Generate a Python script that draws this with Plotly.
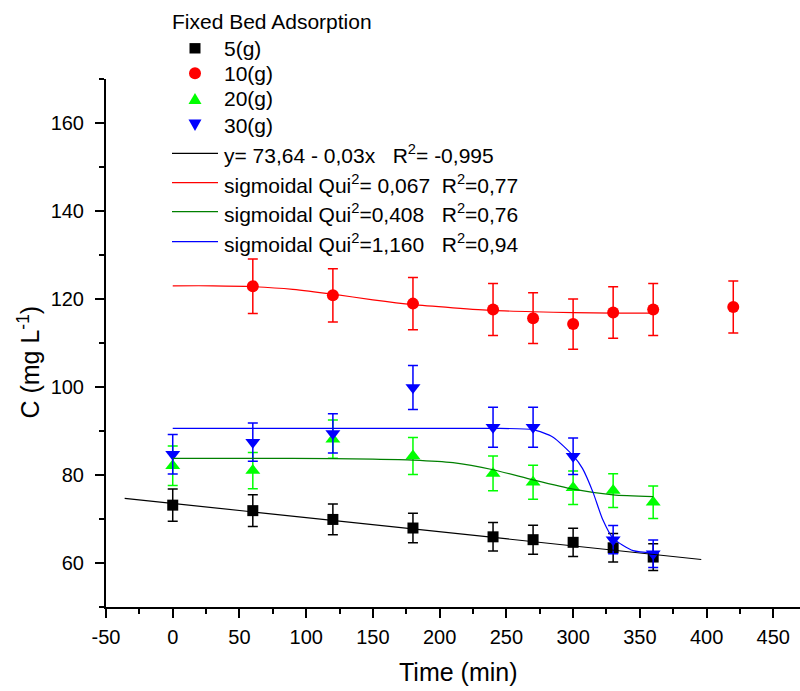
import plotly.graph_objects as go

# ---- data ----
time_5 = [0, 60, 120, 180, 240, 270, 300, 330, 360]
c_5 = [73.15, 71.9, 69.9, 67.95, 65.95, 65.3, 64.7, 63.45, 61.35]
err_5 = [3.65, 3.6, 3.5, 3.35, 3.25, 3.3, 3.2, 3.25, 3.05]

time_10 = [60, 120, 180, 240, 270, 300, 330, 360, 420]
c_10 = [122.9, 120.85, 118.95, 117.6, 115.65, 114.3, 116.95, 117.6, 118.2]
err_10 = [6.2, 6.05, 5.95, 5.9, 5.75, 5.7, 5.85, 5.9, 5.9]

time_20 = [0, 60, 120, 180, 240, 270, 300, 330, 360]
c_20 = [82.1, 81.0, 88.15, 84.3, 80.35, 78.35, 77.1, 76.45, 73.8]
err_20 = [4.5, 4.1, 4.35, 4.2, 3.95, 3.85, 3.8, 3.85, 3.7]

time_30 = [0, 60, 120, 180, 240, 270, 300, 330, 360]
c_30 = [84.7, 87.45, 89.45, 99.9, 90.85, 90.85, 84.25, 65.3, 62.1]
err_30 = [4.5, 4.35, 4.45, 5.0, 4.55, 4.55, 4.15, 3.2, 3.1]

# fitted curves
fit5_x = [-36, 396]
fit5_y = [74.7, 60.8]
fit10_x = [0, 30, 60, 90, 120, 150, 180, 210, 240, 270, 300, 330, 360]
fit10_y = [123.0, 123.0, 122.8, 122.2, 121.1, 119.8, 118.7, 118.0, 117.4, 117.1, 116.9, 116.8, 116.8]
fit20_x = [0, 60, 120, 150, 180, 210, 240, 270, 300, 330, 360]
fit20_y = [83.8, 83.8, 83.7, 83.6, 83.4, 82.8, 81.2, 78.9, 76.8, 75.5, 75.1]
fit30_x = [0, 60, 120, 180, 240, 270, 285, 300, 307, 315, 322, 330, 345, 360]
fit30_y = [90.6, 90.6, 90.6, 90.6, 90.6, 90.3, 88.6, 84.4, 81.5, 76.0, 70.0, 65.6, 62.8, 62.3]

x_tickvals = [-50, 0, 50, 100, 150, 200, 250, 300, 350, 400, 450]
x_ticktext = ["-50", "0", "50", "100", "150", "200", "250", "300", "350", "400", "450"]
y_tickvals = [60, 80, 100, 120, 140, 160]
y_ticktext = ["60", "80", "100", "120", "140", "160"]

legend_title = "Fixed Bed Adsorption"
names_pts = ["5(g)", "10(g)", "20(g)", "30(g)"]
names_fit = ["y= 73,64 - 0,03x   R<sup>2</sup>= -0,995",
             "sigmoidal Qui<sup>2</sup>= 0,067  R<sup>2</sup>=0,77",
             "sigmoidal Qui<sup>2</sup>=0,408   R<sup>2</sup>=0,76",
             "sigmoidal Qui<sup>2</sup>=1,160   R<sup>2</sup>=0,94"]
x_title = "Time (min)"
y_title = "C (mg L<sup>-1</sup>)"

FONT = "Arial, Liberation Sans, sans-serif"
W, H = 800, 691
ML, MR, MT, MB = 106, 0, 79, 84
PW, PH = W - ML - MR, H - MT - MB


def px(xp):
    return (xp - ML) / PW


def py(yp):
    return (H - MB - yp) / PH


fig = go.Figure()

pt_colors = ["#000000", "#ff0000", "#00ff00", "#0000ff"]
pts = [
    (time_5, c_5, err_5, "square", 11),
    (time_10, c_10, err_10, "circle", 12),
    (time_20, c_20, err_20, "triangle-up", 13),
    (time_30, c_30, err_30, "triangle-down", 13),
]
for (x, y, e, sym, sz), nm, col in zip(pts, names_pts, pt_colors):
    fig.add_trace(go.Scatter(
        x=x, y=y, mode="markers", name=nm, showlegend=False,
        marker=dict(symbol=sym, color=col, size=sz, line=dict(width=0)),
        error_y=dict(type="data", array=e, visible=True, color=col, thickness=1.5, width=5),
    ))

fit_colors = ["#000000", "#ff0000", "#008000", "#0000ff"]
fits = [
    (fit5_x, fit5_y, "linear"),
    (fit10_x, fit10_y, "spline"),
    (fit20_x, fit20_y, "spline"),
    (fit30_x, fit30_y, "spline"),
]
for (x, y, shp), nm, col in zip(fits, names_fit, fit_colors):
    fig.add_trace(go.Scatter(
        x=x, y=y, mode="lines", name=nm, showlegend=False,
        line=dict(color=col, width=1.2, shape=shp, smoothing=0.6),
    ))

# ---- hand-built legend (positions in pixels -> paper) ----
shapes = []
annotations = []
LF = 21
annotations.append(dict(text=legend_title, x=px(170), y=py(21.7), xref="paper", yref="paper",
                        xanchor="left", yanchor="middle", showarrow=False,
                        font=dict(family=FONT, size=LF, color="black")))
pt_rows = [48.3, 73.3, 99.0, 125.0]
fit_rows = [153.3, 182.7, 211.7, 241.7]
sx = 195
r = pt_rows[0]
shapes.append(dict(type="rect", xref="paper", yref="paper", x0=px(sx - 5.5), x1=px(sx + 5.5),
                   y0=py(r - 5.2), y1=py(r + 5.2), fillcolor=pt_colors[0], line=dict(width=0)))
r = pt_rows[1]
shapes.append(dict(type="circle", xref="paper", yref="paper", x0=px(sx - 6), x1=px(sx + 6),
                   y0=py(r - 6), y1=py(r + 6), fillcolor=pt_colors[1], line=dict(width=0)))
r = pt_rows[2]
shapes.append(dict(type="path", xref="paper", yref="paper",
                   path="M%f,%f L%f,%f L%f,%f Z" % (px(sx - 6.5), py(r + 5), px(sx + 6.5), py(r + 5), px(sx), py(r - 6)),
                   fillcolor=pt_colors[2], line=dict(width=0)))
r = pt_rows[3]
shapes.append(dict(type="path", xref="paper", yref="paper",
                   path="M%f,%f L%f,%f L%f,%f Z" % (px(sx - 6.5), py(r - 5.5), px(sx + 6.5), py(r - 5.5), px(sx), py(r + 6)),
                   fillcolor=pt_colors[3], line=dict(width=0)))
for nm, r in zip(names_pts, pt_rows):
    annotations.append(dict(text=nm, x=px(222), y=py(r), xref="paper", yref="paper",
                            xanchor="left", yanchor="middle", showarrow=False,
                            font=dict(family=FONT, size=LF, color="black")))
for nm, r, col in zip(names_fit, fit_rows, fit_colors):
    shapes.append(dict(type="line", xref="paper", yref="paper", x0=px(172), x1=px(218),
                       y0=py(r), y1=py(r), line=dict(color=col, width=1.2)))
    annotations.append(dict(text=nm, x=px(222), y=py(r + 1), xref="paper", yref="paper",
                            xanchor="left", yanchor="middle", showarrow=False,
                            font=dict(family=FONT, size=LF, color="black")))

# axis titles
annotations.append(dict(text=x_title, x=px(458), y=py(671.7), xref="paper", yref="paper",
                        xanchor="center", yanchor="middle", showarrow=False,
                        font=dict(family=FONT, size=25, color="black")))
annotations.append(dict(text=y_title, x=px(28.6), y=py(362), xref="paper", yref="paper",
                        xanchor="center", yanchor="middle", showarrow=False, textangle=-90,
                        font=dict(family=FONT, size=25, color="black")))

fig.update_layout(
    width=W, height=H,
    margin=dict(l=ML, r=MR, t=MT, b=MB, autoexpand=False),
    paper_bgcolor="white", plot_bgcolor="white",
    font=dict(family=FONT, size=20, color="black"),
    showlegend=False,
    shapes=shapes, annotations=annotations,
    xaxis=dict(
        range=[-50, 470], tickmode="array", tickvals=x_tickvals, ticktext=x_ticktext,
        automargin=False,
        showline=True, linecolor="black", linewidth=2,
        ticks="outside", ticklen=9, tickwidth=2, tickcolor="black",
        minor=dict(dtick=25, tick0=-50, ticks="outside", ticklen=5, tickwidth=1.5, tickcolor="black"),
        showgrid=False, zeroline=False, ticklabelstandoff=2,
        tickfont=dict(family=FONT, size=20),
    ),
    yaxis=dict(
        range=[50, 170], tickmode="array", tickvals=y_tickvals, ticktext=y_ticktext,
        automargin=False,
        showline=True, linecolor="black", linewidth=2,
        ticks="outside", ticklen=9, tickwidth=2, tickcolor="black",
        minor=dict(dtick=10, tick0=50, ticks="outside", ticklen=5, tickwidth=1.5, tickcolor="black"),
        showgrid=False, zeroline=False, ticklabelstandoff=7,
        tickfont=dict(family=FONT, size=20),
    ),
)

fig.write_html("out.html", config={"displayModeBar": False},
               post_script="document.body.style.margin='0';document.body.style.overflow='hidden';")
